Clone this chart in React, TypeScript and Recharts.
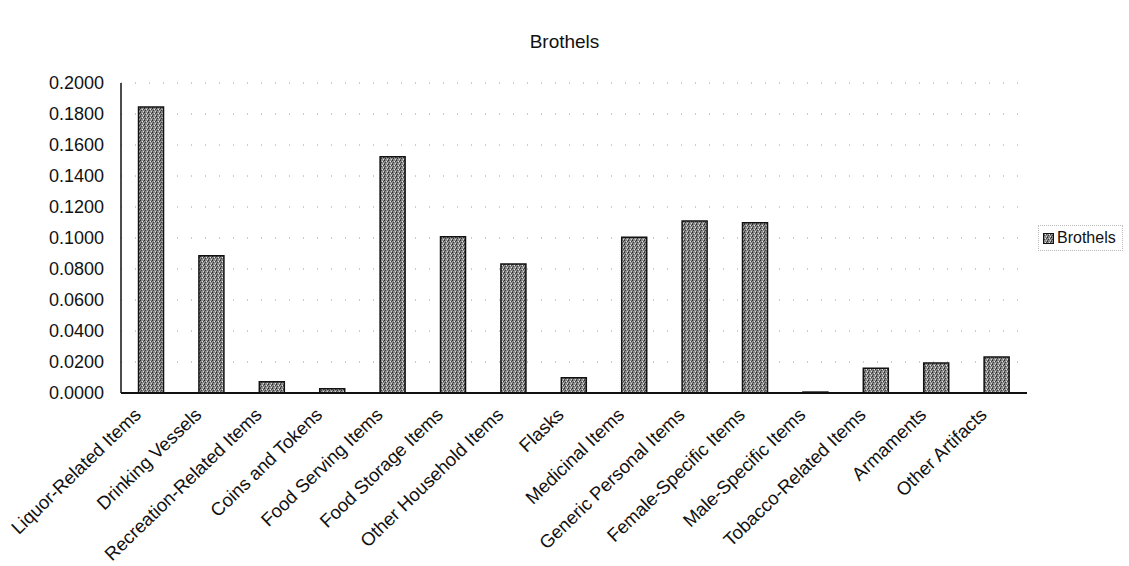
import { BarChart, Bar, XAxis, YAxis, CartesianGrid } from 'recharts'

const categories = [
  'Liquor-Related Items',
  'Drinking Vessels',
  'Recreation-Related Items',
  'Coins and Tokens',
  'Food Serving Items',
  'Food Storage Items',
  'Other Household Items',
  'Flasks',
  'Medicinal Items',
  'Generic Personal Items',
  'Female-Specific Items',
  'Male-Specific Items',
  'Tobacco-Related Items',
  'Armaments',
  'Other Artifacts',
]

const brothels = [
  0.1845, 0.0885, 0.0072, 0.0028, 0.1525, 0.1008, 0.0832, 0.0098, 0.1005, 0.111,
  0.1098, 0.0006, 0.016, 0.0194, 0.0232,
]

const yTicks = [0, 0.02, 0.04, 0.06, 0.08, 0.1, 0.12, 0.14, 0.16, 0.18, 0.2]

const data = categories.map((name, i) => ({ name, Brothels: brothels[i] }))

const FONT = '"Liberation Sans", Arial, sans-serif'

function CategoryTick({ x, y, payload }: any) {
  return (
    <g transform={`translate(${x - 9},${y + 23})`}>
      <text
        x={0}
        y={0}
        textAnchor="end"
        transform="rotate(-44)"
        fontSize={18.5}
        fontFamily={FONT}
        fill="#111"
      >
        {payload.value}
      </text>
    </g>
  )
}

export default function App() {
  return (
    <div style={{ position: 'absolute', left: 0, top: 0, width: 1129, height: 566, background: '#fff' }}>
      <div
        style={{
          position: 'absolute',
          top: 31,
          left: 0,
          width: 1129,
          textAlign: 'center',
          fontFamily: FONT,
          fontSize: 19,
          color: '#111',
        }}
      >
        Brothels
      </div>
      <BarChart
        width={1129}
        height={566}
        data={data}
        margin={{ top: 83, right: 102, left: 0, bottom: 0 }}
        barCategoryGap="29%"
      >
        <defs>
          <pattern id="speckle" width={4} height={4} patternUnits="userSpaceOnUse">
            <rect width={4} height={4} fill="#8a8a8a" />
            <rect x={0} y={0} width={1} height={1} fill="#2a2a2a" />
            <rect x={2} y={1} width={1} height={1} fill="#e8e8e8" />
            <rect x={1} y={2} width={1} height={1} fill="#3a3a3a" />
            <rect x={3} y={3} width={1} height={1} fill="#d8d8d8" />
            <rect x={3} y={1} width={1} height={1} fill="#444" />
            <rect x={0} y={3} width={1} height={1} fill="#555" />
          </pattern>
        </defs>
        <CartesianGrid vertical={false} stroke="#9a9a9a" strokeDasharray="1 13" />
        <XAxis
          dataKey="name"
          interval={0}
          height={173}
          tickLine={false}
          tickSize={0}
          tickMargin={0}
          tick={<CategoryTick />}
          axisLine={{ stroke: '#111', strokeWidth: 2 }}
        />
        <XAxis
          xAxisId="top"
          dataKey="name"
          orientation="top"
          height={0}
          tick={false}
          tickLine={false}
          axisLine={{ stroke: '#222', strokeWidth: 1.5 }}
        />
        <YAxis
          width={121}
          domain={[0, 0.2]}
          ticks={yTicks}
          interval={0}
          tickLine={false}
          tickSize={0}
          tickMargin={17}
          tickFormatter={(v: number) => v.toFixed(4)}
          tick={{ fontSize: 18, fontFamily: FONT, fill: '#111' }}
          axisLine={{ stroke: '#111', strokeWidth: 1.5 }}
        />
        <YAxis
          yAxisId="right"
          orientation="right"
          width={0}
          domain={[0, 0.2]}
          tick={false}
          tickLine={false}
          axisLine={{ stroke: '#111', strokeWidth: 2 }}
        />
        <Bar
          dataKey="Brothels"
          fill="url(#speckle)"
          stroke="#111"
          strokeWidth={1.5}
          isAnimationActive={false}
        />
      </BarChart>
      <div
        style={{
          position: 'absolute',
          left: 1038,
          top: 225,
          display: 'flex',
          alignItems: 'center',
          fontFamily: FONT,
          fontSize: 16,
          color: '#111',
          border: '1px dotted #bbb',
          padding: '3px 6px 3px 4px',
        }}
      >
        <svg width={11} height={11} style={{ marginRight: 3 }}>
          <rect x={0.5} y={0.5} width={10} height={10} fill="url(#speckle)" stroke="#111" />
        </svg>
        Brothels
      </div>
    </div>
  )
}
